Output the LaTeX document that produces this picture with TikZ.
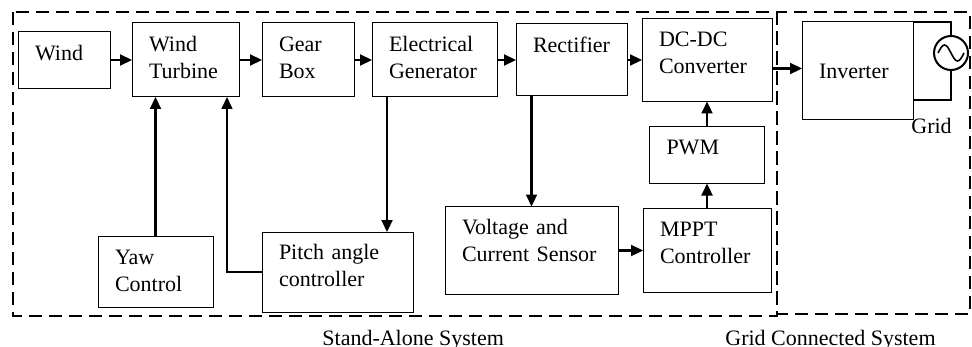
\documentclass[tikz,border=0pt]{standalone}
\usepackage{fontspec}
\setmainfont{Liberation Serif}
\usepackage{tikz}
\usetikzlibrary{arrows.meta,positioning}
\tikzset{
  blk/.style 2 args={rectangle, draw, line width=0.5pt, outer sep=0pt,
              minimum width=#1, minimum height=#2,
              /utils/exec={\pgfmathsetlengthmacro\blkw{#1-17pt}},
              text width=\blkw, inner xsep=8.5pt, align=left},
  lift/.style={text depth=#1},
  arr/.style={-{Triangle[length=6pt,width=5.5pt]}, line width=1.1pt},
  wire/.style={line width=0.6pt},
  zone/.style={line width=1pt, dash pattern=on 6.5pt off 3.5pt},
}
\begin{document}
\begin{tikzpicture}[node distance=11pt, every node/.style={font=\fontsize{11}{13.5}\selectfont}]
        \useasboundingbox (0,0) rectangle (486pt,-173.5pt);
        \draw[zone] (6.5pt,-6pt) rectangle (388.5pt,-158pt);
        \draw[zone] (388.5pt,-6pt) rectangle (485pt,-157pt);

        \node[blk={46pt}{28.5pt}, lift=7.5pt] (wind) at (32pt,-30pt) {Wind};
        \node[blk={53.5pt}{37pt}, lift=16pt, right=11pt of wind] (turbine) {Wind\\Turbine};
        \node[blk={46pt}{37pt}, lift=16pt, right=11.5pt of turbine] (gear) {Gear\\Box};
        \node[blk={62.5pt}{37pt}, lift=16pt, right=9pt of gear] (gen) {Electrical\\Generator};
        \node[blk={55.5pt}{36pt}, lift=15pt, right=9.5pt of gen] (rect) {Rectifier};
        \node[blk={65pt}{41.5pt}, lift=21pt, right=7.5pt of rect] (dcdc) {DC-DC\\Converter};
        \node[blk={55.5pt}{49pt}, right=15pt of dcdc, yshift=-5.5pt] (inv) {Inverter};
        \node[blk={57.5pt}{28.5pt}, lift=7.5pt, below=12.5pt of dcdc] (pwm) {PWM};
        \node[blk={64pt}{42pt}, lift=21.5pt, below=12.5pt of pwm] (mppt) {MPPT\\Controller};
        \node[blk={86.5pt}{44pt}, lift=23.5pt, left=12.5pt of mppt] (sensor) {Voltage and\\Current Sensor};
        \node[blk={75.5pt}{40pt}, lift=20pt, below=67.5pt of gear.south west, anchor=north west] (pitch)
              {Pitch angle\\controller};
        \node[blk={57.5pt}{35.5pt}, lift=15pt, left=24.5pt of pitch] (yaw) {Yaw\\Control};

        \node[circle, draw, line width=1pt, minimum size=17pt, inner sep=0pt] (src) at (475.5pt,-26.5pt) {};
        \draw[line width=0.8pt] ([xshift=-6.5pt]src.center) sin ++(3.25pt,4pt) cos ++(3.25pt,-4pt)
              sin ++(3.25pt,-4pt) cos ++(3.25pt,4pt);
        \draw[wire] (inv.north east) -| (src.north);
        \draw[wire] (src.south) |- ([yshift=10pt]inv.south east);
        \node[anchor=base west, inner sep=0pt] (gridlbl) at ([xshift=-1pt,yshift=-7pt]inv.south east) {Grid};

        \draw[arr] (wind.east) -- (wind.east -| turbine.west);
        \draw[arr] (turbine) -- (gear);
        \draw[arr] (gear) -- (gen);
        \draw[arr] (gen) -- (rect);
        \draw[arr] (rect) -- (dcdc);
        \draw[arr] ([yshift=-4.25pt]dcdc.east) -- ([yshift=-4.25pt]dcdc.east -| inv.west);
        \draw[arr] (yaw.north) -- (yaw.north |- turbine.south);
        \draw[arr, line width=0.8pt] (pitch.west) -| ([xshift=20.75pt]turbine.south);
        \draw[arr] ([xshift=-23.75pt]gen.south) -- ([xshift=-23.75pt]gen.south |- pitch.north);
        \draw[arr] (sensor.north |- rect.south) -- (sensor.north);
        \draw[arr] (sensor) -- (mppt);
        \draw[arr] (mppt) -- (pwm);
        \draw[arr] (pwm) -- (dcdc);

        \node[anchor=base west, inner sep=0pt] (salbl) at (161pt,-172.5pt) {Stand-Alone System};
        \node[anchor=base west, inner sep=0pt] (gclbl) at (362.5pt,-172.5pt) {Grid Connected System};
\end{tikzpicture}
\end{document}
